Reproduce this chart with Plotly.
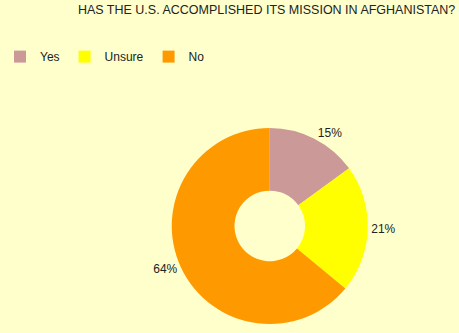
import plotly.graph_objects as go

labels = ["Yes", "Unsure", "No"]
values = [15, 21, 64]
colors = ["#CC9999", "#FFFF00", "#FF9900"]
title_text = "HAS THE U.S. ACCOMPLISHED ITS MISSION IN AFGHANISTAN?"

W, H = 459, 333
cx, cy, r = 266, 226, 100  # pixel center and radius of donut

fig = go.Figure(go.Pie(
    labels=labels,
    values=values,
    hole=0.36,
    sort=False,
    direction="clockwise",
    rotation=0,
    marker=dict(colors=colors, line=dict(width=0)),
    texttemplate="%{value}%",
    textposition="outside",
    textfont=dict(family="Liberation Sans, Arial", size=12, color="#222222"),
    domain=dict(x=[(cx - r) / W, (cx + r) / W], y=[(H - cy - r) / H, (H - cy + r) / H]),
    showlegend=True,
))

fig.update_layout(
    width=W, height=H,
    margin=dict(l=0, r=0, t=0, b=0),
    paper_bgcolor="#FFFFCC",
    plot_bgcolor="#FFFFCC",
    font=dict(family="Liberation Sans, Arial", size=12, color="#222222"),
    title=dict(text=title_text, x=0.992, xanchor="right", y=0.972, yanchor="middle",
               font=dict(size=12.5, color="#222222")),
    legend=dict(orientation="h", x=-0.02, xanchor="left", y=0.83, yanchor="middle",
                font=dict(size=12), itemwidth=30, traceorder="normal",
                bgcolor="rgba(0,0,0,0)"),
)

fig.write_html("out.html")
